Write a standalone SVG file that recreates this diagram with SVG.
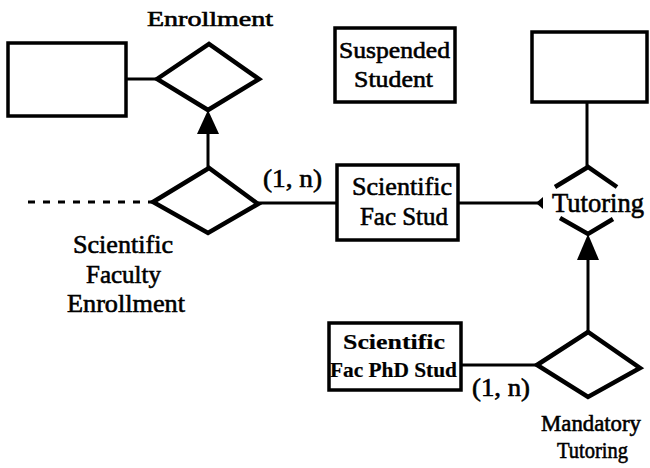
<svg xmlns="http://www.w3.org/2000/svg" width="650" height="468" viewBox="0 0 650 468">
<style>
.ent{fill:#fff;stroke:#000;stroke-width:3.5}
.rel{fill:#fff;stroke:#000;stroke-width:4.5;stroke-linejoin:miter}
.ln{fill:none;stroke:#000;stroke-width:3}
.dash{fill:none;stroke:#000;stroke-width:3;stroke-dasharray:7 8}
.ah{fill:#000;stroke:none}
text{font-family:"Liberation Serif","Times New Roman",serif;fill:#000;stroke:#000;stroke-width:0.6}
.b{font-weight:bold;stroke-width:0.2}
</style>
<g id="connectors">
<line class="ln" x1="126" y1="79" x2="157" y2="79"/>
<line class="ln" x1="208" y1="168" x2="208" y2="132"/>
<polygon class="ah" points="208,110 197,134 219,134"/>
<line class="dash" x1="28" y1="202" x2="153" y2="202"/>
<line class="ln" x1="258" y1="203" x2="337" y2="203"/>
<line class="ln" x1="458" y1="203" x2="541" y2="203"/>
<polygon class="ah" points="536,203 543,197 543,209"/>
<line class="ln" x1="587" y1="102" x2="587" y2="168"/>
<line class="ln" x1="588" y1="332" x2="588" y2="258"/>
<polygon class="ah" points="588,234 577,260 599,260"/>
<line class="ln" x1="461" y1="365" x2="537" y2="365"/>
</g>
<g id="entity-left"><rect class="ent" x="8" y="43" width="118" height="73"/></g>
<g id="rel-enrollment">
<polygon class="rel" points="157,79 209,44 259,79 208,110"/>
<text x="147" y="26" font-size="21" textLength="126" lengthAdjust="spacingAndGlyphs">Enrollment</text>
</g>
<g id="entity-suspended">
<rect class="ent" x="335" y="28" width="120" height="74"/>
<text x="339" y="58" font-size="24" textLength="111" lengthAdjust="spacingAndGlyphs">Suspended</text>
<text x="354" y="87" font-size="24" textLength="79" lengthAdjust="spacingAndGlyphs">Student</text>
</g>
<g id="entity-right"><rect class="ent" x="532" y="32" width="115" height="70"/></g>
<g id="rel-sfe">
<polygon class="rel" points="153,202 209,168 258,204 208,233"/>
<text x="73" y="253" font-size="26" textLength="100" lengthAdjust="spacingAndGlyphs">Scientific</text>
<text x="86" y="283" font-size="26" textLength="75" lengthAdjust="spacingAndGlyphs">Faculty</text>
<text x="67" y="312" font-size="26" textLength="118" lengthAdjust="spacingAndGlyphs">Enrollment</text>
</g>
<g id="label-1n-top"><text x="263" y="187" font-size="25" textLength="59" lengthAdjust="spacingAndGlyphs">(1, n)</text></g>
<g id="entity-sfs">
<rect class="ent" x="337" y="165" width="121" height="75"/>
<text x="352" y="195" font-size="26" textLength="100" lengthAdjust="spacingAndGlyphs">Scientific</text>
<text x="360" y="225" font-size="26" textLength="88" lengthAdjust="spacingAndGlyphs">Fac Stud</text>
</g>
<g id="rel-tutoring">
<polyline class="rel" fill="none" points="555,187 588,167 617,187"/>
<polyline class="rel" fill="none" points="560,218 588,234 613,219"/>
<text x="552" y="212" font-size="27" textLength="92" lengthAdjust="spacingAndGlyphs">Tutoring</text>
</g>
<g id="entity-phd">
<rect class="ent" x="329" y="323" width="132" height="67"/>
<text class="b" x="343" y="349" font-size="21" textLength="102" lengthAdjust="spacingAndGlyphs">Scientific</text>
<text class="b" x="330" y="377" font-size="21" textLength="127" lengthAdjust="spacingAndGlyphs">Fac PhD Stud</text>
</g>
<g id="label-1n-bottom"><text x="472" y="396" font-size="25" textLength="58" lengthAdjust="spacingAndGlyphs">(1, n)</text></g>
<g id="rel-mandatory">
<polygon class="rel" points="537,365 588,332 640,368 588,397"/>
<text x="541" y="431" font-size="24" textLength="100" lengthAdjust="spacingAndGlyphs">Mandatory</text>
<text x="557" y="458" font-size="24" textLength="71" lengthAdjust="spacingAndGlyphs">Tutoring</text>
</g>
</svg>
